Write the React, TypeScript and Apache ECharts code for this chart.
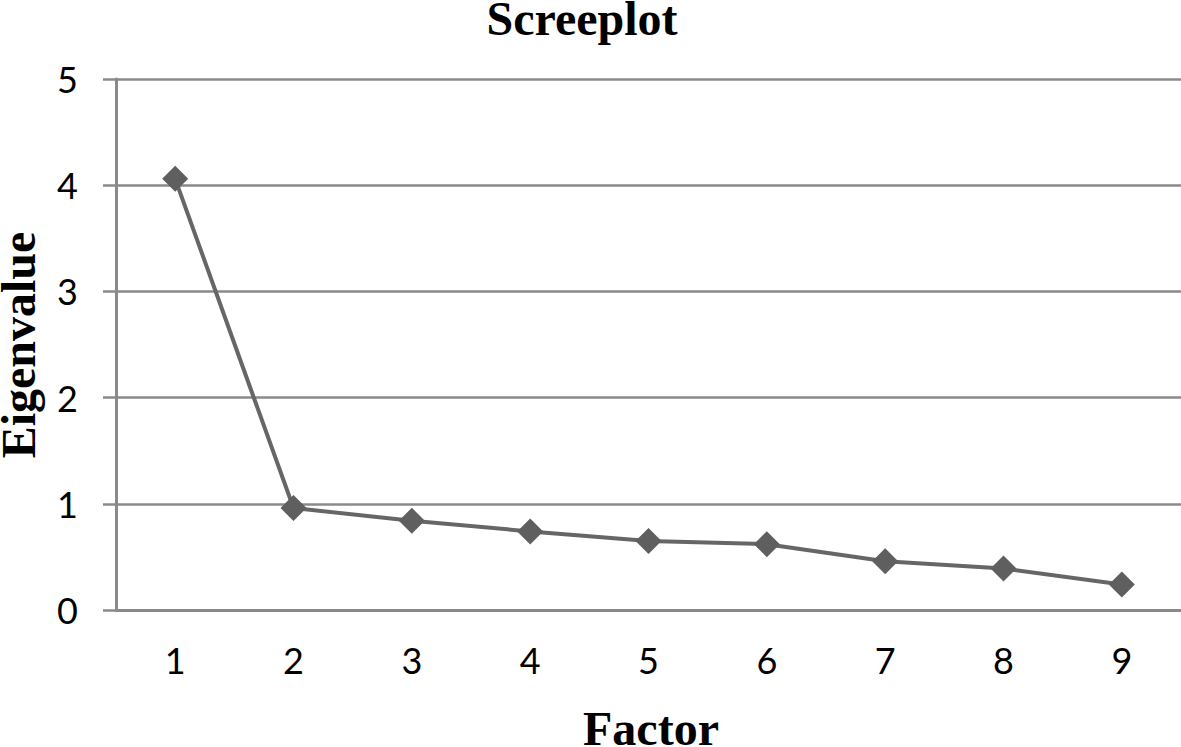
import React, { useEffect, useRef } from "react";
import * as echarts from "echarts";

const factors = ["1", "2", "3", "4", "5", "6", "7", "8", "9"];
const eigenvalues = [4.06, 0.96, 0.84, 0.74, 0.65, 0.62, 0.46, 0.39, 0.24];
const titleText = "Screeplot";
const xName = "Factor";
const yName = "Eigenvalue";

export default function App() {
  const ref = useRef<HTMLDivElement>(null);
  useEffect(() => {
    if (!ref.current) return;
    const chart = echarts.init(ref.current, null, { renderer: "svg" });
    const serif = "bold 48px 'Liberation Serif', 'Times New Roman', serif";
    chart.setOption({
      animation: false,
      backgroundColor: "#ffffff",
      grid: { left: 116, right: 0, top: 79, bottom: 137, containLabel: false },
      xAxis: {
        type: "category",
        data: factors,
        boundaryGap: true,
        axisLine: { show: true, lineStyle: { color: "#8a8a8a", width: 3 } },
        axisTick: { show: false },
        axisLabel: {
          margin: 32,
          fontFamily: "Lato, 'Open Sans', sans-serif",
          fontSize: 36,
          color: "#000000",
        },
        splitLine: { show: false },
      },
      yAxis: {
        type: "value",
        min: 0,
        max: 5,
        interval: 1,
        axisLine: { show: true, lineStyle: { color: "#8a8a8a", width: 3 } },
        axisTick: { show: true, length: 13, lineStyle: { color: "#8a8a8a", width: 2.5 } },
        axisLabel: {
          margin: 38,
          fontFamily: "Lato, 'Open Sans', sans-serif",
          fontSize: 36,
          color: "#000000",
        },
        splitLine: { show: true, lineStyle: { color: "#8a8a8a", width: 2.5 } },
      },
      series: [
        {
          type: "line",
          data: eigenvalues,
          symbol: "diamond",
          symbolSize: 26,
          itemStyle: { color: "#5f5f5f" },
          lineStyle: { color: "#666666", width: 4 },
        },
      ],
      graphic: [
        {
          type: "text",
          x: 582,
          y: 18,
          style: { text: titleText, font: serif, fill: "#000", align: "center", verticalAlign: "middle" },
        },
        {
          type: "text",
          x: 651,
          y: 728,
          style: { text: xName, font: serif, fill: "#000", align: "center", verticalAlign: "middle" },
        },
        {
          type: "text",
          x: 18,
          y: 345,
          rotation: Math.PI / 2,
          style: { text: yName, font: serif, fill: "#000", align: "center", verticalAlign: "middle" },
        },
      ],
    });
    return () => chart.dispose();
  }, []);
  return (
    <div
      ref={ref}
      style={{ position: "fixed", left: 0, top: 0, width: 1181, height: 747 }}
    />
  );
}
